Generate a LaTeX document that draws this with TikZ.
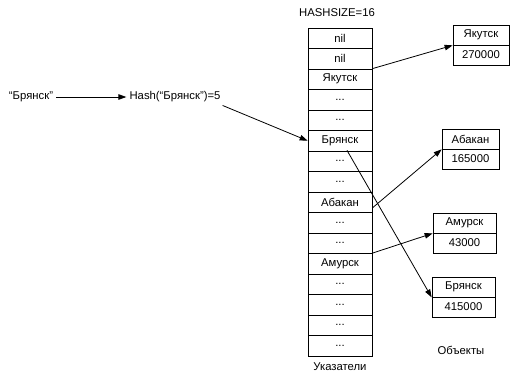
\documentclass[tikz,border=0pt]{standalone}
\usepackage{fontspec}
\setmainfont{Liberation Sans}
\usetikzlibrary{arrows.meta,calc}
\begin{document}
\begin{tikzpicture}[x=1pt,y=-1pt,
  every node/.style={font=\fontsize{11.3}{13}\selectfont},
  cell/.style={draw,line width=0.7pt,minimum width=64pt,minimum height=20.5pt,inner sep=0pt,anchor=center},
  obj/.style={draw,line width=0.7pt,minimum height=20pt,inner sep=0pt},
  arr/.style={line width=0.8pt,-{Triangle[length=8pt,width=5.5pt]}},
  lbl/.style={inner sep=2pt}]
\useasboundingbox (0,0) rectangle (515,378);
% pointer column
\foreach \i/\t in {1/nil,2/nil,3/Якутск,4/{...},5/{...},6/Брянск,7/{...},8/{...},9/Абакан,10/{...},11/{...},12/Амурск,13/{...},14/{...},15/{...},16/{...}}{
  \node[cell] (c\i) at (340,{28+20.5*(\i-0.5)}) {\t};
}
\node[lbl] (hs) at (337,13) {HASHSIZE=16};
\node[lbl] (ptr) at (340,367) {Указатели};
\node[lbl] (objs) at (461,350) {Объекты};
% objects
\node[obj,minimum width=56pt] (yakN) at (481,35) {Якутск};
\node[obj,minimum width=56pt] (yakV) at (481,55) {270000};
\node[obj,minimum width=57pt] (abaN) at (470.5,139) {Абакан};
\node[obj,minimum width=57pt] (abaV) at (470.5,159) {165000};
\node[obj,minimum width=63pt] (amuN) at (464.5,223) {Амурск};
\node[obj,minimum width=63pt] (amuV) at (464.5,243) {43000};
\node[obj,minimum width=63pt] (brN) at (463.5,287) {Брянск};
\node[obj,minimum width=63pt] (brV) at (463.5,307) {415000};
% hash
\node[lbl,inner sep=3pt] (src) at (31,97) {“Брянск”};
\node[lbl] (hash) at (175,97) {Hash(“Брянск”)=5};
\draw[arr] (src.east) -- ([xshift=-1pt]hash.west);
\draw[arr] ([yshift=-1pt]hash.south east) -- (c6.west);
% pointers
\draw[arr] (c3.north east) -- (yakN.south west);
\draw[arr] (c9.-10) -- (abaN.south west);
\draw[arr] (c12.north east) -- (amuN.south west);
\draw[arr] ([xshift=7pt,yshift=1pt]c6.south) -- (brN.south west);
\end{tikzpicture}
\end{document}
